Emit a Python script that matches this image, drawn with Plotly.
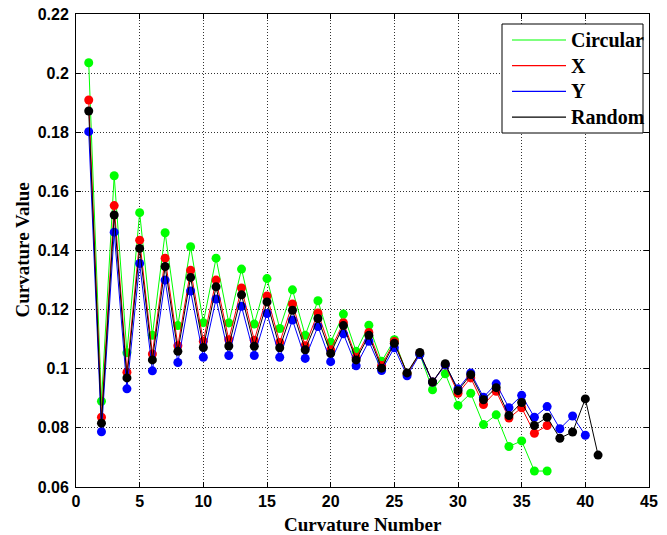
import plotly.graph_objects as go

# Curvature values per curvature number for each sampling pattern
circular = [0.2035, 0.0890, 0.1653, 0.1054, 0.1528, 0.1113, 0.1460, 0.1146, 0.1413, 0.1156,
            0.1374, 0.1155, 0.1337, 0.1151, 0.1305, 0.1136, 0.1267, 0.1113, 0.1230, 0.1090,
            0.1185, 0.1059, 0.1147, 0.1025, 0.1098, 0.0983, 0.1050, 0.0929, 0.0983, 0.0876,
            0.0917, 0.0811, 0.0844, 0.0737, 0.0756, 0.0654, 0.0654]
x_axis = [0.1909, 0.0836, 0.1552, 0.0988, 0.1435, 0.1050, 0.1374, 0.1078, 0.1333, 0.1093,
          0.1300, 0.1098, 0.1273, 0.1096, 0.1246, 0.1089, 0.1219, 0.1078, 0.1189, 0.1064,
          0.1156, 0.1039, 0.1123, 0.1011, 0.1092, 0.0983, 0.1052, 0.0955, 0.1013, 0.0917,
          0.0969, 0.0879, 0.0924, 0.0833, 0.0868, 0.0782, 0.0808]
y_axis = [0.1802, 0.0787, 0.1462, 0.0932, 0.1356, 0.0993, 0.1300, 0.1021, 0.1263, 0.1039,
          0.1236, 0.1045, 0.1211, 0.1045, 0.1187, 0.1039, 0.1165, 0.1035, 0.1143, 0.1024,
          0.1118, 0.1010, 0.1093, 0.0994, 0.1071, 0.0976, 0.1048, 0.0955, 0.1013, 0.0932,
          0.0986, 0.0904, 0.0949, 0.0868, 0.0910, 0.0836, 0.0872, 0.0797, 0.0840, 0.0775]
random_ = [0.1872, 0.0816, 0.1520, 0.0969, 0.1407, 0.1030, 0.1346, 0.1059, 0.1309, 0.1072,
           0.1277, 0.1077, 0.1250, 0.1076, 0.1226, 0.1071, 0.1198, 0.1064, 0.1170, 0.1052,
           0.1146, 0.1030, 0.1113, 0.1002, 0.1086, 0.0986, 0.1055, 0.0955, 0.1017, 0.0926,
           0.0980, 0.0895, 0.0936, 0.0842, 0.0886, 0.0808, 0.0836, 0.0765, 0.0786, 0.0898,
           0.0708]

series = [
    ("Circular", circular, "#00ff00"),
    ("X", x_axis, "#ff0000"),
    ("Y", y_axis, "#0000ff"),
    ("Random", random_, "#000000"),
]

x_ticks = list(range(0, 46, 5))
y_ticks = [0.06, 0.08, 0.10, 0.12, 0.14, 0.16, 0.18, 0.20, 0.22]
y_tick_text = ["0.06", "0.08", "0.1", "0.12", "0.14", "0.16", "0.18", "0.2", "0.22"]

W, H = 667, 535
ML, MR, MT, MB = 76, 18, 14, 48
PW, PH = W - ML - MR, H - MT - MB

fig = go.Figure()

for name, vals, color in series:
    fig.add_trace(go.Scatter(
        x=list(range(1, len(vals) + 1)), y=vals, mode="lines+markers",
        line=dict(color=color, width=1),
        marker=dict(color=color, size=9),
        showlegend=False, name=name,
    ))

axis_common = dict(
    showline=True, linecolor="black", linewidth=1, mirror="allticks",
    ticks="inside", ticklen=5, tickcolor="black",
    showgrid=True, gridcolor="#333333", gridwidth=1, griddash="1px,2px",
    zeroline=False, automargin=False,
    tickfont=dict(family="Liberation Sans", size=16, color="black", weight="bold"),
)

fig.update_xaxes(range=[0, 45], tickvals=x_ticks, ticklabelstandoff=0, **axis_common)
fig.update_yaxes(range=[0.06, 0.22], tickvals=y_ticks, ticktext=y_tick_text,
                 ticklabelstandoff=3, **axis_common)

title_font = dict(family="Liberation Serif", size=19, color="black", weight="bold")
annotations = [
    dict(text="Curvature Number", x=0.5, y=0, xref="paper", yref="paper",
         xanchor="center", yanchor="middle", yshift=-37, showarrow=False, font=title_font),
    dict(text="Curvature Value", x=0, y=0.5, xref="paper", yref="paper",
         xanchor="center", yanchor="middle", xshift=-54, textangle=-90,
         showarrow=False, font=title_font),
]


def px_x(px):
    return (px - ML) / PW


def px_y(py):
    return (H - MB - py) / PH


# legend box with line samples and labels
shapes = [dict(type="rect", xref="paper", yref="paper",
               x0=px_x(502), x1=px_x(643), y0=px_y(133), y1=px_y(24),
               line=dict(color="black", width=1), fillcolor="white", layer="above")]
legend_font = dict(family="Liberation Serif", size=20, color="black", weight="bold")
for i, (name, vals, color) in enumerate(series):
    cy = 40 + i * 25.7
    shapes.append(dict(type="line", xref="paper", yref="paper",
                       x0=px_x(512), x1=px_x(566), y0=px_y(cy), y1=px_y(cy),
                       line=dict(color=color, width=1.2), layer="above"))
    annotations.append(dict(text=name, x=px_x(569), y=px_y(cy), xref="paper", yref="paper",
                            xanchor="left", yanchor="middle", showarrow=False,
                            font=legend_font))

fig.update_layout(
    width=W, height=H,
    margin=dict(l=ML, r=MR, t=MT, b=MB),
    paper_bgcolor="white", plot_bgcolor="white",
    showlegend=False,
    shapes=shapes, annotations=annotations,
)

fig.write_html("out.html")
